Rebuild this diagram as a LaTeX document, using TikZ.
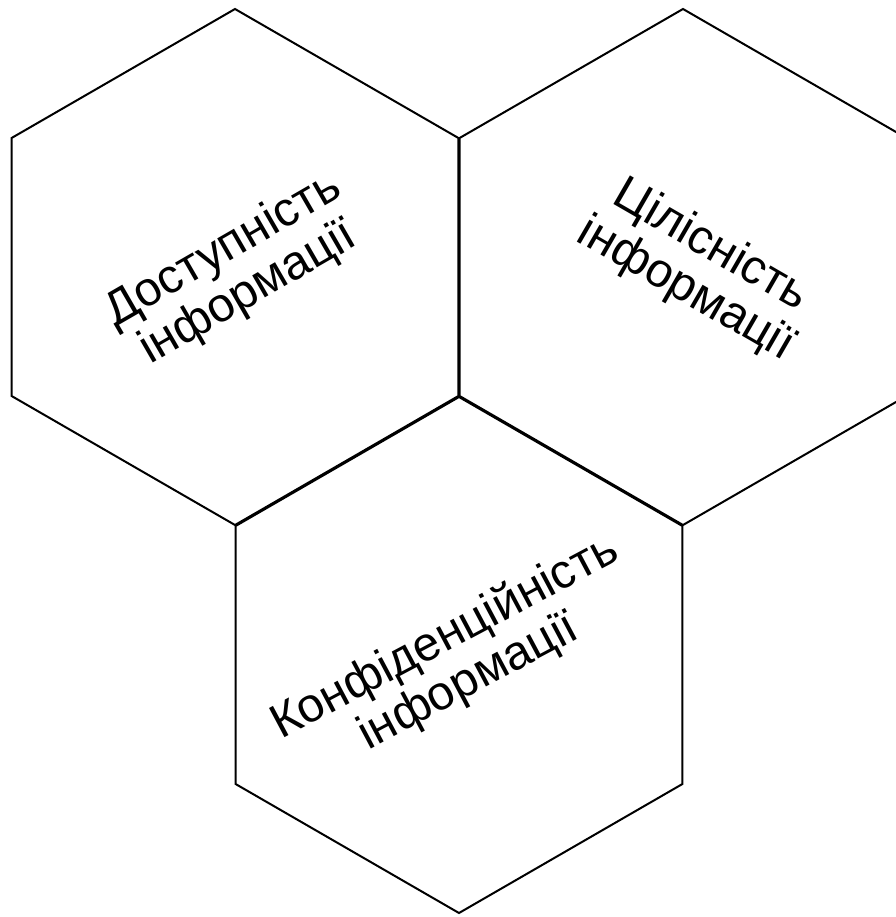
\documentclass[tikz,border=0pt]{standalone}
\usepackage{fontspec}
\setmainfont{Liberation Sans}

\begin{document}
\begin{tikzpicture}[x=1pt,y=-1pt,hex/.style={line width=2pt},
  lbl/.style={font=\fontsize{48}{50}\selectfont,align=center,inner sep=0pt}]
\useasboundingbox (0,0) rectangle (895,917);
\coordinate (A) at (235,267); \coordinate (B) at (683,267); \coordinate (C) at (459,655);
\foreach \c in {A,B,C}
  \draw[hex,shift={(\c)}] (0,-258)--(223.4,-129)--(223.4,129)--(0,258)--(-223.4,129)--(-223.4,-129)--cycle;
\node[lbl,rotate=30] (dostup) at (236,272) {Доступність\\інформації};
\node[lbl,rotate=-30] (tsilis) at (698,268) {Цілісність\\інформації};
\node[lbl,rotate=28] (konf) at (457,660) {Конфіденційність\\інформації};
\end{tikzpicture}
\end{document}
